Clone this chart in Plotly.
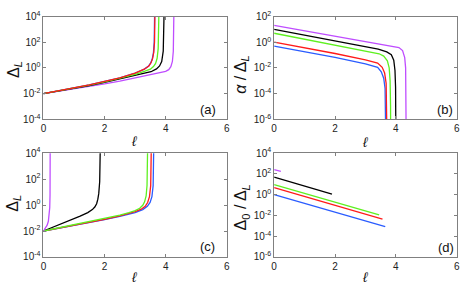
import plotly.graph_objects as go

W, H = 464, 290

# ---------------- data ----------------
# panel (a): Delta_L vs ell
a_blue_l = [0, 0.5, 1, 1.5, 2, 2.5, 3, 3.29, 3.44, 3.51, 3.56, 3.6, 3.625, 3.64]
a_blue_v = [0.01, 0.0164, 0.027, 0.0468, 0.087, 0.165, 0.385, 0.77, 1.38, 2.45, 4.9, 15.5, 100, 31600]
a_red_l = [0, 0.5, 1, 1.5, 2, 2.5, 3, 3.3, 3.45, 3.52, 3.57, 3.61, 3.635, 3.65]
a_red_v = [0.01, 0.0166, 0.0275, 0.0479, 0.0891, 0.170, 0.398, 0.794, 1.41, 2.51, 5.01, 15.8, 100, 31600]
a_green_l = [0, 0.5, 1, 1.5, 2, 2.5, 3, 3.3, 3.5, 3.6, 3.67, 3.72, 3.755, 3.78]
a_green_v = [0.01, 0.0162, 0.0263, 0.0447, 0.0813, 0.151, 0.316, 0.525, 0.794, 1.26, 2.24, 5.62, 31.6, 31600]
a_black_l = [0, 0.5, 1, 1.5, 2, 2.5, 3, 3.3, 3.52, 3.7, 3.8, 3.87, 3.92, 3.95]
a_black_v = [0.01, 0.0158, 0.0251, 0.0417, 0.0741, 0.135, 0.251, 0.380, 0.501, 0.832, 1.41, 3.16, 20.0, 31600]
a_purple_l = [0, 0.5, 1, 1.5, 2, 2.5, 3, 3.5, 3.8, 4.0, 4.1, 4.17, 4.22, 4.25, 4.27]
a_purple_v = [0.01, 0.0151, 0.0229, 0.0355, 0.0562, 0.0933, 0.166, 0.275, 0.398, 0.537, 0.724, 1.26, 3.16, 20.0, 31600]

# panel (b): alpha / Delta_L vs ell
b_blue_l = [0, 1, 2, 3, 3.4, 3.52, 3.6, 3.645, 3.665, 3.67]
b_blue_v = [0.501, 0.191, 0.0661, 0.0209, 0.0112, 0.00501, 0.00158, 0.000251, 1e-5, 1e-8]
b_red_l = [0, 1, 2, 3, 3.4, 3.55, 3.63, 3.68, 3.70, 3.71]
b_red_v = [1.0, 0.380, 0.132, 0.0417, 0.0240, 0.0112, 0.00398, 0.000631, 3.16e-5, 1e-8]
b_green_l = [0, 1, 2, 3, 3.45, 3.6, 3.72, 3.78, 3.81, 3.825, 3.83]
b_green_v = [5.01, 1.78, 0.603, 0.209, 0.126, 0.0832, 0.0355, 0.01, 0.001, 1e-5, 1e-8]
b_black_l = [0, 1, 2, 3, 3.42, 3.7, 3.85, 3.93, 3.97, 3.99, 4.0]
b_black_v = [10.2, 3.72, 1.32, 0.468, 0.288, 0.178, 0.105, 0.0398, 0.00631, 0.000316, 1e-8]
b_purple_l = [0, 1, 2, 3, 3.42, 3.8, 4.1, 4.22, 4.29, 4.32, 4.335, 4.34]
b_purple_v = [20.9, 7.94, 3.02, 1.20, 0.794, 0.562, 0.380, 0.224, 0.0631, 0.01, 0.000316, 1e-8]

# panel (c): Delta_L vs ell
c_blue_l = [0, 0.5, 1, 1.5, 2, 2.5, 2.8, 3.0, 3.25, 3.4, 3.49, 3.55, 3.59, 3.61]
c_blue_v = [0.01, 0.0162, 0.0269, 0.0457, 0.0741, 0.132, 0.200, 0.263, 0.447, 0.794, 1.58, 4.47, 31.6, 31600]
c_red_l = [0, 0.5, 1, 1.5, 2, 2.5, 2.8, 3.0, 3.2, 3.33, 3.41, 3.47, 3.51, 3.53]
c_red_v = [0.01, 0.0166, 0.0282, 0.0490, 0.0794, 0.145, 0.224, 0.309, 0.479, 0.794, 1.58, 4.47, 31.6, 31600]
c_green_l = [0, 0.5, 1, 1.5, 2, 2.5, 2.8, 3.0, 3.15, 3.25, 3.31, 3.36, 3.39, 3.41]
c_green_v = [0.01, 0.0174, 0.0302, 0.0525, 0.0891, 0.166, 0.263, 0.372, 0.562, 0.955, 1.78, 5.01, 31.6, 31600]
c_black_l = [0, 0.4, 0.8, 1.2, 1.45, 1.6, 1.68, 1.74, 1.78, 1.81, 1.84, 1.86]
c_black_v = [0.01, 0.0234, 0.0562, 0.141, 0.263, 0.447, 0.708, 1.26, 2.82, 7.94, 63.1, 31600]
c_purple_l = [0, 0.06, 0.12, 0.16, 0.19, 0.205, 0.215, 0.22]
c_purple_v = [0.01, 0.0158, 0.0282, 0.0562, 0.158, 0.631, 6.31, 31600]

# panel (d): Delta_0 / Delta_L vs ell
d_blue_l = [0, 3.65]
d_blue_v = [1.02, 0.000832]
d_red_l = [0, 3.56]
d_red_v = [4.90, 0.00437]
d_green_l = [0, 3.45]
d_green_v = [9.55, 0.0115]
d_black_l = [0, 1.9]
d_black_v = [47.9, 1.15]
d_purple_l = [0, 0.22]
d_purple_v = [263, 178]

x_ticks = [0, 2, 4, 6]
x_ticktext = ["0", "2", "4", "6"]
y_ticks_ac = [1e-4, 1e-2, 1, 1e2, 1e4]
y_ticktext_ac = ["10<sup>-4</sup>", "10<sup>-2</sup>", "10<sup>0</sup>", "10<sup>2</sup>", "10<sup>4</sup>"]
y_ticks_b = [1e-6, 1e-4, 1e-2, 1, 1e2]
y_ticktext_b = ["10<sup>-6</sup>", "10<sup>-4</sup>", "10<sup>-2</sup>", "10<sup>0</sup>", "10<sup>2</sup>"]
y_ticks_d = [1e-6, 1e-4, 1e-2, 1, 1e2, 1e4]
y_ticktext_d = ["10<sup>-6</sup>", "10<sup>-4</sup>", "10<sup>-2</sup>", "10<sup>0</sup>", "10<sup>2</sup>", "10<sup>4</sup>"]

COL = {"blue": "#2a5cff", "red": "#ff1a1a", "green": "#5ef020",
       "black": "#000000", "purple": "#bf4dff"}

panels = {
    1: [("blue", a_blue_l, a_blue_v), ("purple", a_purple_l, a_purple_v),
        ("black", a_black_l, a_black_v), ("green", a_green_l, a_green_v),
        ("red", a_red_l, a_red_v)],
    2: [("blue", b_blue_l, b_blue_v), ("red", b_red_l, b_red_v),
        ("green", b_green_l, b_green_v), ("black", b_black_l, b_black_v),
        ("purple", b_purple_l, b_purple_v)],
    3: [("blue", c_blue_l, c_blue_v), ("red", c_red_l, c_red_v),
        ("black", c_black_l, c_black_v), ("green", c_green_l, c_green_v),
        ("purple", c_purple_l, c_purple_v)],
    4: [("blue", d_blue_l, d_blue_v), ("red", d_red_l, d_red_v),
        ("green", d_green_l, d_green_v), ("black", d_black_l, d_black_v),
        ("purple", d_purple_l, d_purple_v)],
}

fig = go.Figure()
for k, series in panels.items():
    sfx = "" if k == 1 else str(k)
    for name, lx, ly in series:
        fig.add_trace(go.Scatter(x=lx, y=ly, mode="lines", xaxis="x" + sfx, yaxis="y" + sfx,
                                 line=dict(color=COL[name], width=1.3), showlegend=False,
                                 hoverinfo="skip"))

def px_x(p):
    return p / W

def px_y(p):
    return 1 - p / H

xdom_l = [px_x(41), px_x(226.7)]
xdom_r = [px_x(274.7), px_x(459.7)]
ydom_t = [px_y(117.5), px_y(10)]
ydom_b = [px_y(261.7), px_y(153)]

frame = dict(showline=True, linecolor="#808080", linewidth=1, mirror="ticks",
             ticks="inside", ticklen=3, tickcolor="#808080", showgrid=False,
             zeroline=False, tickfont=dict(family="Liberation Sans, Arial", size=10, color="#222"))

def xax(dom, anchor):
    return dict(domain=dom, anchor=anchor, range=[0, 6], tickvals=x_ticks, ticktext=x_ticktext, **frame)

def yax(dom, anchor, rng, tv, tt):
    return dict(domain=dom, anchor=anchor, type="log", range=rng, tickvals=tv, ticktext=tt, **frame)

fig.update_layout(
    width=W, height=H, margin=dict(l=0, r=0, t=0, b=0),
    paper_bgcolor="white", plot_bgcolor="white", showlegend=False,
    xaxis=xax(xdom_l, "y"), yaxis=yax(ydom_t, "x", [-4, 4], y_ticks_ac, y_ticktext_ac),
    xaxis2=xax(xdom_r, "y2"), yaxis2=yax(ydom_t, "x2", [-6, 2], y_ticks_b, y_ticktext_b),
    xaxis3=xax(xdom_l, "y3"), yaxis3=yax(ydom_b, "x3", [-4, 4], y_ticks_ac, y_ticktext_ac),
    xaxis4=xax(xdom_r, "y4"), yaxis4=yax(ydom_b, "x4", [-6, 4], y_ticks_d, y_ticktext_d),
)

FONT = "Liberation Sans, Arial"
ann = []
def add(text, x, y, size, angle=0):
    ann.append(dict(text=text, x=px_x(x), y=px_y(y), xref="paper", yref="paper",
                    showarrow=False, textangle=angle, xanchor="center", yanchor="middle",
                    font=dict(family=FONT, size=size, color="#111")))

ylab_L = "Δ<sub><i>L</i></sub>"
add(ylab_L, 11, 65, 16, -90)
add("<i>α</i> / Δ<sub><i>L</i></sub>", 242, 70, 16, -90)
add(ylab_L, 11, 205, 16, -90)
add("Δ<sub>0</sub> / Δ<sub><i>L</i></sub>", 242, 210, 16, -90)
for (x, y) in [(133, 140), (367, 141), (133, 283), (367, 283)]:
    add("<i>ℓ</i>", x, y, 14)
for t, x, y in [("(a)", 208, 107), ("(b)", 448, 107), ("(c)", 207, 251), ("(d)", 449, 252)]:
    add(t, x, y, 13)

fig.update_layout(annotations=ann)
fig.write_html(
    "out.html",
    config={"displayModeBar": False},
    post_script="document.body.style.margin='0px';document.body.style.padding='0px';document.body.style.overflow='hidden';",
)
